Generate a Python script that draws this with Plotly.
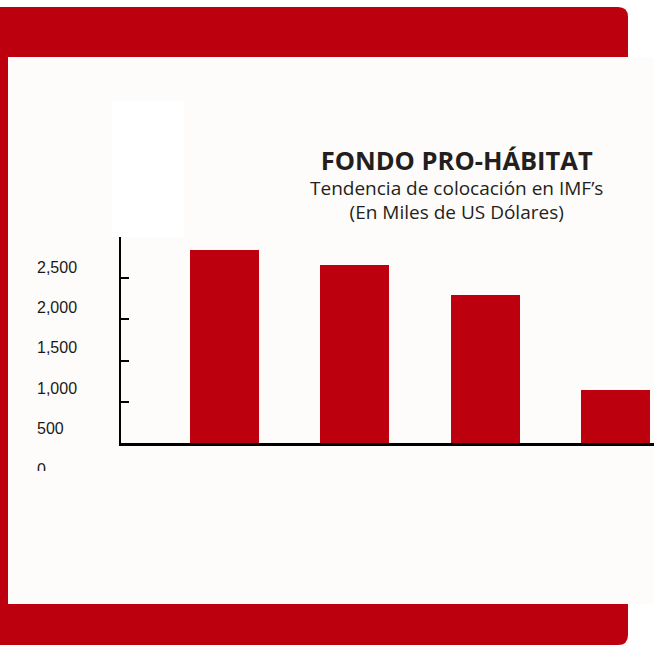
import plotly.graph_objects as go

# chart values
periodos = ["P1", "P2", "P3", "P4"]
colocacion = [2340, 2160, 1800, 640]
ticks_y = [0, 500, 1000, 1500, 2000, 2500]
ticks_txt = ["0", "500", "1,000", "1,500", "2,000", "2,500"]

titulo = "FONDO PRO-HÁBITAT"
subtitulo = ["Tendencia de colocación en IMF’s", "(En Miles de US Dólares)"]

W, H = 654, 649
ROJO = "#BC000D"
FONDO = "#FDFCFA"
TEXTO = "#231F20"


def px(x):
    return x / W


def py(y):
    return (H - y) / H


fig = go.Figure()

fig.add_trace(go.Bar(
    x=periodos, y=colocacion,
    width=0.528,
    marker=dict(color=ROJO, line=dict(width=0)),
    showlegend=False, hoverinfo="skip",
))

# dummy trace so the (shifted) label axis is drawn
fig.add_trace(go.Scatter(
    x=[None], y=[None], xaxis="x", yaxis="y2",
    showlegend=False, hoverinfo="skip",
))

# red frame, off-white inner panel, white box
frame = (f"M {px(-10)},{py(7)} L {px(618)},{py(7)} Q {px(628)},{py(7)} {px(628)},{py(17)} "
         f"L {px(628)},{py(635)} Q {px(628)},{py(645)} {px(618)},{py(645)} L {px(-10)},{py(645)} Z")
shapes = [
    dict(type="path", path=frame, xref="paper", yref="paper",
         fillcolor=ROJO, line=dict(width=0), layer="below"),
    dict(type="rect", xref="paper", yref="paper", x0=px(8), x1=px(660), y0=py(57), y1=py(604),
         fillcolor=FONDO, line=dict(width=0), layer="below"),
    dict(type="rect", xref="paper", yref="paper", x0=px(112), x1=px(184), y0=py(101), y1=py(237),
         fillcolor="#FFFFFF", line=dict(width=0), layer="below"),
    # hides the lower part of the "0" label like in the original
    dict(type="rect", xref="paper", yref="paper", x0=px(20), x1=px(115), y0=py(471), y1=py(520),
         fillcolor=FONDO, line=dict(width=0), layer="above"),
]

texto_titulo = (f"<span style='font-size:25.5px'><b>{titulo}</b></span><br>"
                + "<br>".join(subtitulo))

fig.add_annotation(
    text=texto_titulo, x=px(456), y=py(183.5), xref="paper", yref="paper",
    showarrow=False, xanchor="center", yanchor="middle", align="center",
    font=dict(family="Open Sans", size=19, color=TEXTO),
)

fig.update_layout(
    width=W, height=H,
    margin=dict(l=0, r=0, t=0, b=0, autoexpand=False),
    paper_bgcolor="#FFFFFF",
    plot_bgcolor="rgba(0,0,0,0)",
    bargap=0,
    shapes=shapes,
    xaxis=dict(
        type="category",
        domain=[px(121), 1],
        range=[-0.789, 3.292],
        anchor="y",
        showline=True, linecolor="#000000", linewidth=2.5,
        ticks="", showticklabels=False, showgrid=False, zeroline=False,
    ),
    yaxis=dict(
        domain=[py(443), py(237)],
        range=[0, 2500],
        anchor="x",
        tickvals=ticks_y,
        showline=True, linecolor="#000000", linewidth=2,
        ticks="inside", ticklen=8, tickwidth=2, tickcolor="#000000",
        showticklabels=False, showgrid=False, zeroline=False,
    ),
    yaxis2=dict(
        domain=[py(469), py(267)],
        range=[0, 2500],
        anchor="free", position=px(36), side="right",
        tickvals=ticks_y, ticktext=ticks_txt,
        showline=False, ticks="", showgrid=False, zeroline=False,
        tickfont=dict(family="Liberation Sans", size=16, color="#1A1A1A"),
    ),
)

# no page margin, so the figure fills the window exactly
nomargin = ("document.documentElement.style.margin='0';document.body.style.margin='0';"
            "document.body.style.overflow='hidden';")

fig.write_html("out.html", post_script=nomargin, config={"displayModeBar": False})
